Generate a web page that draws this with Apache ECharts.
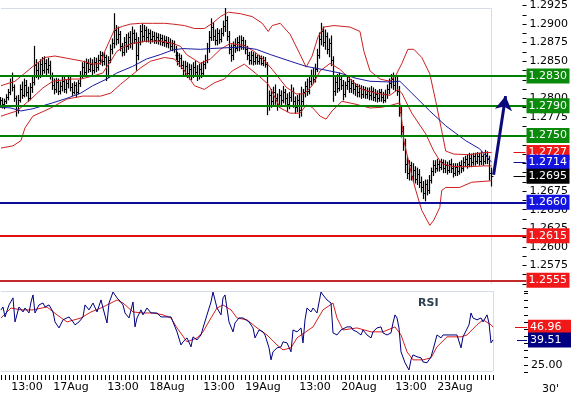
<!DOCTYPE html>
<html><head><meta charset="utf-8">
<script src="https://cdn.jsdelivr.net/npm/echarts@6/dist/echarts.min.js"></script>
<style>html,body{margin:0;padding:0;background:#fff}#c{width:571px;height:397px}</style>
</head><body><div id="c"></div>
<script>
// ---------- DATA ----------
const barCount = 247, padCount = 17;
const tickIndex = [13, 35, 61, 83, 109, 131, 157, 179, 205, 227];
const tickText = ['13:00', '17Aug', '13:00', '18Aug', '13:00', '19Aug', '13:00', '20Aug', '13:00', '23Aug'];

// [open, close, low, high] per 30-minute bar
const ohlc = [
[1.2795,1.2798,1.2788,1.2801],[1.2798,1.2792,1.2787,1.2800],[1.2792,1.2796,1.2786,1.2799],[1.2796,1.2802,1.2793,1.2805],
[1.2802,1.2808,1.2798,1.2812],[1.2808,1.2822,1.2805,1.2826],[1.2822,1.2815,1.2810,1.2834],[1.2815,1.2800,1.2796,1.2818],
[1.2800,1.2784,1.2776,1.2803],[1.2784,1.2798,1.2780,1.2804],[1.2798,1.2812,1.2795,1.2818],[1.2812,1.2805,1.2800,1.2822],
[1.2805,1.2818,1.2802,1.2826],[1.2818,1.2808,1.2803,1.2824],[1.2808,1.2800,1.2796,1.2815],[1.2800,1.2815,1.2798,1.2820],
[1.2815,1.2822,1.2808,1.2828],[1.2822,1.2845,1.2818,1.2870],[1.2845,1.2838,1.2828,1.2852],[1.2838,1.2832,1.2826,1.2848],
[1.2832,1.2846,1.2828,1.2852],[1.2846,1.2838,1.2832,1.2855],[1.2838,1.2848,1.2834,1.2856],[1.2848,1.2840,1.2832,1.2852],
[1.2840,1.2845,1.2834,1.2854],[1.2845,1.2830,1.2826,1.2850],[1.2830,1.2818,1.2812,1.2834],[1.2818,1.2812,1.2806,1.2826],
[1.2812,1.2822,1.2808,1.2827],[1.2822,1.2810,1.2805,1.2826],[1.2810,1.2816,1.2806,1.2822],[1.2816,1.2824,1.2810,1.2830],
[1.2824,1.2812,1.2808,1.2828],[1.2812,1.2820,1.2807,1.2825],[1.2820,1.2826,1.2814,1.2830],[1.2826,1.2815,1.2810,1.2829],
[1.2815,1.2808,1.2804,1.2820],[1.2808,1.2818,1.2806,1.2822],[1.2818,1.2808,1.2802,1.2821],[1.2808,1.2820,1.2806,1.2824],
[1.2820,1.2832,1.2816,1.2836],[1.2832,1.2842,1.2828,1.2848],[1.2842,1.2836,1.2830,1.2850],[1.2836,1.2848,1.2832,1.2853],
[1.2848,1.2840,1.2835,1.2852],[1.2840,1.2846,1.2836,1.2854],[1.2846,1.2838,1.2832,1.2852],[1.2838,1.2849,1.2834,1.2855],
[1.2849,1.2842,1.2836,1.2854],[1.2842,1.2852,1.2838,1.2858],[1.2852,1.2858,1.2846,1.2863],[1.2858,1.2850,1.2844,1.2862],
[1.2850,1.2856,1.2845,1.2862],[1.2856,1.2832,1.2824,1.2858],[1.2832,1.2852,1.2828,1.2856],[1.2852,1.2866,1.2848,1.2872],
[1.2866,1.2874,1.2860,1.2880],[1.2874,1.2892,1.2868,1.2914],[1.2892,1.2880,1.2872,1.2898],[1.2880,1.2886,1.2874,1.2896],
[1.2886,1.2870,1.2864,1.2890],[1.2870,1.2862,1.2857,1.2874],[1.2862,1.2876,1.2858,1.2882],[1.2876,1.2870,1.2862,1.2886],
[1.2870,1.2882,1.2866,1.2888],[1.2882,1.2875,1.2868,1.2890],[1.2875,1.2888,1.2866,1.2896],[1.2888,1.2880,1.2874,1.2892],
[1.2880,1.2858,1.2838,1.2888],[1.2858,1.2876,1.2852,1.2882],[1.2876,1.2890,1.2872,1.2898],[1.2890,1.2884,1.2876,1.2900],
[1.2884,1.2892,1.2878,1.2898],[1.2892,1.2882,1.2876,1.2896],[1.2882,1.2888,1.2876,1.2893],[1.2888,1.2880,1.2874,1.2892],
[1.2880,1.2884,1.2876,1.2890],[1.2884,1.2878,1.2874,1.2889],[1.2878,1.2882,1.2874,1.2888],[1.2882,1.2878,1.2873,1.2887],
[1.2878,1.2881,1.2872,1.2886],[1.2881,1.2876,1.2871,1.2885],[1.2876,1.2879,1.2870,1.2884],[1.2879,1.2874,1.2869,1.2883],
[1.2874,1.2876,1.2868,1.2882],[1.2876,1.2870,1.2865,1.2880],[1.2870,1.2874,1.2864,1.2878],[1.2874,1.2866,1.2862,1.2877],
[1.2866,1.2858,1.2852,1.2870],[1.2858,1.2850,1.2845,1.2862],[1.2850,1.2854,1.2843,1.2860],[1.2854,1.2845,1.2840,1.2858],
[1.2845,1.2838,1.2832,1.2850],[1.2838,1.2844,1.2830,1.2850],[1.2844,1.2834,1.2828,1.2848],[1.2834,1.2840,1.2826,1.2846],
[1.2840,1.2832,1.2825,1.2845],[1.2832,1.2842,1.2828,1.2848],[1.2842,1.2836,1.2830,1.2850],[1.2836,1.2830,1.2824,1.2844],
[1.2830,1.2840,1.2826,1.2846],[1.2840,1.2834,1.2828,1.2848],[1.2834,1.2846,1.2830,1.2850],[1.2846,1.2852,1.2840,1.2858],
[1.2852,1.2868,1.2848,1.2874],[1.2868,1.2882,1.2862,1.2890],[1.2882,1.2896,1.2878,1.2907],[1.2896,1.2884,1.2878,1.2902],
[1.2884,1.2878,1.2872,1.2892],[1.2878,1.2888,1.2872,1.2894],[1.2888,1.2880,1.2874,1.2892],[1.2880,1.2888,1.2876,1.2894],
[1.2888,1.2898,1.2884,1.2904],[1.2898,1.2906,1.2890,1.2921],[1.2906,1.2884,1.2878,1.2910],[1.2884,1.2866,1.2860,1.2890],
[1.2866,1.2858,1.2850,1.2872],[1.2858,1.2872,1.2852,1.2876],[1.2872,1.2868,1.2862,1.2880],[1.2868,1.2876,1.2864,1.2882],
[1.2876,1.2870,1.2864,1.2884],[1.2870,1.2878,1.2866,1.2884],[1.2878,1.2872,1.2866,1.2882],[1.2872,1.2866,1.2860,1.2878],
[1.2866,1.2858,1.2852,1.2870],[1.2858,1.2852,1.2846,1.2862],[1.2852,1.2858,1.2846,1.2863],[1.2858,1.2850,1.2845,1.2862],
[1.2850,1.2856,1.2846,1.2860],[1.2856,1.2850,1.2846,1.2858],[1.2850,1.2854,1.2846,1.2858],[1.2854,1.2848,1.2845,1.2857],
[1.2848,1.2852,1.2844,1.2856],[1.2852,1.2846,1.2842,1.2855],[1.2846,1.2790,1.2778,1.2848],[1.2790,1.2804,1.2784,1.2810],
[1.2804,1.2796,1.2788,1.2812],[1.2796,1.2808,1.2790,1.2815],[1.2808,1.2800,1.2792,1.2818],[1.2800,1.2792,1.2784,1.2806],
[1.2792,1.2804,1.2788,1.2812],[1.2804,1.2798,1.2790,1.2810],[1.2798,1.2808,1.2794,1.2816],[1.2808,1.2800,1.2792,1.2812],
[1.2800,1.2792,1.2782,1.2806],[1.2792,1.2802,1.2786,1.2808],[1.2802,1.2810,1.2796,1.2818],[1.2810,1.2796,1.2788,1.2814],
[1.2796,1.2788,1.2780,1.2802],[1.2788,1.2798,1.2782,1.2804],[1.2798,1.2784,1.2774,1.2806],[1.2784,1.2796,1.2776,1.2815],
[1.2796,1.2808,1.2790,1.2812],[1.2808,1.2816,1.2802,1.2822],[1.2816,1.2810,1.2804,1.2826],[1.2810,1.2824,1.2806,1.2830],
[1.2824,1.2832,1.2818,1.2838],[1.2832,1.2826,1.2820,1.2840],[1.2826,1.2840,1.2822,1.2846],[1.2840,1.2858,1.2836,1.2866],
[1.2858,1.2880,1.2854,1.2888],[1.2880,1.2890,1.2872,1.2901],[1.2890,1.2876,1.2870,1.2896],[1.2876,1.2884,1.2866,1.2892],
[1.2884,1.2866,1.2860,1.2888],[1.2866,1.2874,1.2856,1.2880],[1.2874,1.2852,1.2844,1.2884],[1.2852,1.2810,1.2796,1.2856],
[1.2810,1.2822,1.2804,1.2828],[1.2822,1.2814,1.2808,1.2832],[1.2814,1.2826,1.2810,1.2834],[1.2826,1.2818,1.2812,1.2830],
[1.2818,1.2806,1.2798,1.2824],[1.2806,1.2818,1.2802,1.2822],[1.2818,1.2824,1.2812,1.2830],[1.2824,1.2814,1.2808,1.2828],
[1.2814,1.2820,1.2808,1.2825],[1.2820,1.2812,1.2806,1.2824],[1.2812,1.2816,1.2804,1.2820],[1.2816,1.2808,1.2802,1.2819],
[1.2808,1.2814,1.2802,1.2818],[1.2814,1.2806,1.2800,1.2817],[1.2806,1.2812,1.2801,1.2816],[1.2812,1.2806,1.2800,1.2815],
[1.2806,1.2810,1.2800,1.2814],[1.2810,1.2804,1.2798,1.2814],[1.2804,1.2810,1.2798,1.2816],[1.2810,1.2802,1.2797,1.2814],
[1.2802,1.2806,1.2796,1.2812],[1.2806,1.2800,1.2795,1.2810],[1.2800,1.2808,1.2796,1.2812],[1.2808,1.2802,1.2796,1.2812],
[1.2802,1.2798,1.2794,1.2808],[1.2798,1.2806,1.2795,1.2811],[1.2806,1.2812,1.2800,1.2818],[1.2812,1.2820,1.2806,1.2826],
[1.2820,1.2826,1.2814,1.2832],[1.2826,1.2818,1.2812,1.2834],[1.2818,1.2824,1.2810,1.2830],[1.2824,1.2810,1.2804,1.2828],
[1.2810,1.2782,1.2776,1.2816],[1.2782,1.2756,1.2748,1.2788],[1.2756,1.2740,1.2730,1.2762],[1.2740,1.2712,1.2700,1.2745],
[1.2712,1.2700,1.2692,1.2720],[1.2700,1.2710,1.2690,1.2716],[1.2710,1.2696,1.2690,1.2714],[1.2696,1.2704,1.2688,1.2712],
[1.2704,1.2692,1.2686,1.2708],[1.2692,1.2698,1.2684,1.2706],[1.2698,1.2688,1.2680,1.2704],[1.2688,1.2680,1.2674,1.2694],
[1.2680,1.2672,1.2665,1.2688],[1.2672,1.2684,1.2662,1.2690],[1.2684,1.2676,1.2670,1.2690],[1.2676,1.2690,1.2672,1.2696],
[1.2690,1.2702,1.2686,1.2706],[1.2702,1.2710,1.2696,1.2716],[1.2710,1.2706,1.2700,1.2716],[1.2706,1.2712,1.2702,1.2718],
[1.2712,1.2708,1.2702,1.2716],[1.2708,1.2714,1.2704,1.2718],[1.2714,1.2706,1.2700,1.2717],[1.2706,1.2710,1.2700,1.2716],
[1.2710,1.2704,1.2698,1.2714],[1.2704,1.2712,1.2700,1.2716],[1.2712,1.2706,1.2700,1.2718],[1.2706,1.2700,1.2694,1.2712],
[1.2700,1.2708,1.2696,1.2712],[1.2708,1.2702,1.2696,1.2712],[1.2702,1.2710,1.2698,1.2714],[1.2710,1.2706,1.2700,1.2716],
[1.2706,1.2714,1.2702,1.2720],[1.2714,1.2718,1.2708,1.2722],[1.2718,1.2712,1.2706,1.2724],[1.2712,1.2720,1.2708,1.2726],
[1.2720,1.2714,1.2708,1.2725],[1.2714,1.2722,1.2710,1.2726],[1.2722,1.2716,1.2710,1.2726],[1.2716,1.2722,1.2712,1.2727],
[1.2722,1.2716,1.2710,1.2726],[1.2716,1.2722,1.2711,1.2728],[1.2722,1.2716,1.2710,1.2724],[1.2716,1.2724,1.2712,1.2730],
[1.2724,1.2718,1.2712,1.2728],[1.2718,1.2700,1.2690,1.2722],[1.2700,1.2695,1.2682,1.2706]
];

// indicator lines: [bar index, value]
const bbUpper = [[0,1.2817],[7,1.2823],[12,1.2834],[16,1.2843],[22,1.2855],[27,1.2857],[33,1.2854],[41,1.2850],[46,1.2846],[50,1.2847],[52,1.2863],[55,1.2881],[57,1.2893],[61,1.2897],[65,1.2900],[70,1.2901],[76,1.2901],[82,1.2901],[86,1.2900],[92,1.2898],[97,1.2894],[102,1.2894],[106,1.2901],[110,1.2910],[114,1.2916],[120,1.2914],[126,1.2910],[131,1.2901],[134,1.2890],[136,1.2898],[140,1.2901],[145,1.2886],[150,1.2859],[153,1.2842],[156,1.2857],[159,1.2883],[162,1.2896],[167,1.2898],[175,1.2896],[180,1.2890],[182,1.2863],[185,1.2837],[190,1.2826],[195,1.2823],[198,1.2831],[201,1.2847],[204,1.2866],[207,1.2866],[211,1.2855],[215,1.2833],[218,1.2796],[221,1.2756],[223,1.2729],[227,1.2725],[235,1.2724],[242,1.2727],[246,1.2727]];
const bbMid = [[0,1.2776],[8,1.2783],[15,1.2799],[21,1.2814],[26,1.2823],[35,1.2826],[40,1.2826],[46,1.2830],[51,1.2834],[55,1.2850],[58,1.2863],[62,1.2870],[66,1.2874],[73,1.2877],[80,1.2877],[86,1.2874],[90,1.2870],[93,1.2859],[100,1.2847],[105,1.2853],[110,1.2866],[115,1.2874],[122,1.2871],[127,1.2863],[131,1.2854],[136,1.2839],[143,1.2815],[148,1.2806],[152,1.2806],[156,1.2817],[160,1.2837],[165,1.2847],[170,1.2839],[175,1.2826],[181,1.2812],[188,1.2807],[195,1.2804],[199,1.2812],[201,1.2807],[203,1.2796],[206,1.2780],[213,1.2752],[217,1.2729],[221,1.2712],[227,1.2708],[235,1.2708],[242,1.2709],[246,1.2709]];
const bbLower = [[0,1.2733],[6,1.2736],[10,1.2743],[12,1.2760],[16,1.2776],[25,1.2787],[33,1.2799],[41,1.2803],[50,1.2803],[55,1.2807],[60,1.2819],[65,1.2830],[70,1.2841],[75,1.2850],[82,1.2855],[87,1.2853],[92,1.2837],[97,1.2817],[102,1.2812],[107,1.2821],[112,1.2826],[116,1.2837],[122,1.2846],[128,1.2833],[134,1.2819],[140,1.2787],[145,1.2780],[150,1.2780],[153,1.2791],[156,1.2788],[160,1.2776],[163,1.2772],[166,1.2783],[171,1.2796],[178,1.2792],[185,1.2787],[191,1.2788],[196,1.2791],[200,1.2794],[202,1.2743],[206,1.2696],[208,1.2676],[211,1.2649],[215,1.2629],[217,1.2636],[220,1.2653],[221,1.2676],[223,1.2680],[230,1.2680],[236,1.2687],[246,1.2689]];
const maLine = [[0,1.2788],[5,1.2787],[10,1.2783],[16,1.2786],[21,1.2790],[26,1.2794],[33,1.2800],[40,1.2807],[46,1.2817],[53,1.2826],[58,1.2834],[66,1.2843],[73,1.2853],[80,1.2859],[86,1.2865],[91,1.2867],[100,1.2866],[105,1.2867],[120,1.2869],[128,1.2866],[135,1.2859],[145,1.2850],[153,1.2843],[161,1.2839],[170,1.2834],[178,1.2827],[185,1.2823],[195,1.2822],[200,1.2823],[206,1.2807],[215,1.2783],[223,1.2763],[233,1.2743],[240,1.2732],[246,1.2714]];

const rsi = [[0,57.0],[1,58.7],[2,52.9],[4,59.9],[6,64.0],[7,50.0],[9,58.7],[11,55.8],[12,58.1],[14,55.2],[15,61.6],[16,65.7],[17,55.2],[19,59.9],[21,61.0],[22,58.7],[24,59.9],[26,55.8],[27,50.0],[29,46.5],[31,51.2],[32,52.3],[34,52.9],[36,50.0],[37,48.3],[39,50.0],[41,52.9],[42,59.9],[44,57.0],[46,61.0],[48,55.8],[50,62.8],[51,58.1],[53,49.4],[54,61.0],[56,67.4],[57,67.4],[58,64.0],[59,62.8],[61,59.9],[62,55.2],[64,52.3],[66,61.6],[67,47.1],[68,52.3],[70,57.0],[71,54.1],[73,58.1],[75,55.2],[76,55.8],[78,55.2],[80,52.9],[81,52.3],[83,52.9],[85,52.9],[86,50.0],[88,44.2],[90,36.6],[91,38.4],[93,40.7],[95,35.5],[96,41.3],[98,39.5],[100,42.4],[101,46.5],[103,54.1],[105,61.6],[106,67.4],[108,58.1],[110,54.1],[111,64.0],[112,65.7],[114,50.0],[116,44.2],[117,49.4],[119,52.3],[121,52.3],[122,52.3],[124,50.0],[126,46.5],[127,40.7],[129,45.3],[131,44.2],[132,42.4],[134,34.9],[135,27.9],[136,32.6],[138,34.9],[140,35.5],[141,38.4],[143,37.8],[145,32.6],[146,45.3],[148,44.2],[150,46.5],[151,37.8],[152,51.2],[153,58.1],[155,55.8],[156,58.1],[158,55.2],[160,67.4],[161,65.7],[163,62.8],[165,61.0],[166,43.6],[168,42.4],[170,45.3],[171,44.2],[173,47.1],[175,47.1],[176,45.3],[178,44.2],[180,42.4],[181,45.3],[183,42.4],[185,40.7],[186,44.2],[188,46.5],[190,47.1],[191,43.6],[193,42.4],[195,43.6],[196,49.4],[197,54.1],[198,52.3],[199,46.5],[200,32.6],[201,32.0],[202,26.2],[204,22.0],[205,27.9],[206,30.8],[208,29.7],[210,29.1],[211,26.7],[213,26.2],[215,29.7],[216,33.7],[218,42.4],[220,40.7],[221,42.4],[223,42.4],[225,42.4],[226,41.3],[228,42.4],[230,34.9],[231,41.3],[232,42.4],[234,48.3],[235,55.2],[236,52.3],[238,51.2],[240,52.3],[241,50.0],[243,54.1],[244,49.4],[245,37.8],[246,39.51]];
const rsiMa = [[0,52.3],[5,58.1],[10,57.0],[16,57.0],[23,58.7],[28,54.1],[33,50.0],[40,52.3],[45,55.8],[50,58.1],[55,61.0],[58,62.8],[61,61.0],[66,55.8],[71,55.2],[76,55.2],[81,54.1],[85,52.3],[88,46.5],[93,38.4],[98,40.7],[101,44.2],[105,52.3],[108,58.1],[111,59.9],[115,57.0],[118,52.3],[123,51.2],[128,46.5],[133,42.4],[138,36.6],[141,33.7],[145,34.9],[148,40.7],[156,47.1],[161,57.0],[166,61.0],[168,52.3],[171,45.3],[178,46.5],[185,44.2],[191,44.2],[197,47.1],[200,42.4],[203,32.6],[206,27.9],[211,27.9],[215,29.1],[218,35.5],[223,41.3],[230,41.3],[233,42.4],[238,48.3],[241,51.2],[245,48.3],[246,46.96]];

const levelValues = [1.2830, 1.2790, 1.2750, 1.2660, 1.2615, 1.2555];
const lastValues = [1.2727, 1.2714, 1.2695];   // band top, MA, close
const rsiLastValues = [46.96, 39.51];          // RSI average, RSI
const arrowPoints = [[247, 1.2697], [253, 1.2803]];
const priceTop = 1.2921, rsiTop = 68, rsiBottom = 21.3;

// ---------- STYLES ----------
const levelLineColors = ['#008000', '#008000', '#008000', '#0c0c9c', '#e01010', '#c42a2a'];
const levelBoxColors = ['#0a8a0a', '#0a8a0a', '#0a8a0a', '#1414e0', '#f01818', '#f01818'];
const lastLineColors = ['#e01010', '#10108c', '#000000'];
const lastBoxColors = ['#f01818', '#1414e0', '#000000'];
const rsiLineColors = ['#e01010', '#000080'];
const rsiBoxColors = ['#f01818', '#000080'];
const FONT = 'DejaVu Sans, Verdana, sans-serif';
const frameColor = '#d6dde6';

const cats = Array.from({length: barCount + padCount}, (_, i) => String(i));
const labelMap = {};
tickIndex.forEach((k, j) => { labelMap[k] = tickText[j]; });
const lastCat = barCount + padCount - 1;

function boxLabel(bg) {
  return {show: true, position: 'end', distance: 0, formatter: '{b}', color: '#fff',
    backgroundColor: bg, fontSize: 11, fontFamily: FONT, lineHeight: 13,
    padding: [1, 2, 1, 2], width: 39, align: 'left'};
}

const priceMarks = [];
levelValues.forEach((v, k) => {
  priceMarks.push({yAxis: v, name: v.toFixed(4),
    lineStyle: {color: levelLineColors[k], width: 2, type: 'solid'},
    label: boxLabel(levelBoxColors[k])});
});
lastValues.forEach((v, k) => {
  priceMarks.push([{coord: [lastCat - 6, v], name: v.toFixed(4),
    lineStyle: {color: lastLineColors[k], width: 1, type: 'solid'},
    label: Object.assign(boxLabel(lastBoxColors[k]), {distance: 1})},
    {coord: [lastCat, v]}]);
});
priceMarks.push([{coord: arrowPoints[0], symbol: 'none',
    lineStyle: {color: '#0a0a7a', width: 3, type: 'solid'}, label: {show: false}},
  {coord: arrowPoints[1], symbol: 'arrow', symbolSize: [13, 14]}]);

const rsiMarks = [];
rsiLastValues.forEach((v, k) => {
  rsiMarks.push([{coord: [lastCat - 6 + k, v], name: v.toFixed(2),
    lineStyle: {color: rsiLineColors[k], width: 1, type: 'solid'},
    label: Object.assign(boxLabel(rsiBoxColors[k]), {distance: 1})},
    {coord: [lastCat, v]}]);
});

const frameStyle = {color: frameColor, width: 1, type: 'solid'};
const priceFrame = [
  [{coord: [0, priceTop], lineStyle: frameStyle}, {coord: [barCount - 1, priceTop]}],
  [{coord: [barCount - 1, priceTop], lineStyle: frameStyle}, {coord: [barCount - 1, 1.2550]}]
];
const rsiFrame = [
  [{coord: [0, rsiTop], lineStyle: frameStyle}, {coord: [barCount - 1, rsiTop]}],
  [{coord: [0, rsiBottom], lineStyle: frameStyle}, {coord: [barCount - 1, rsiBottom]}],
  [{coord: [barCount - 1, rsiTop], lineStyle: frameStyle}, {coord: [barCount - 1, rsiBottom]}]
];

const ohlcData = ohlc.map((d, i) => [i, d[0], d[1], d[2], d[3]]);

function renderBar(params, api) {
  const i = api.value(0);
  const pO = api.coord([i, api.value(1)]);
  const pC = api.coord([i, api.value(2)]);
  const pL = api.coord([i, api.value(3)]);
  const pH = api.coord([i, api.value(4)]);
  const x = Math.round(pO[0]) - 0.5;
  const yo = Math.round(pO[1]) + 0.5, yc = Math.round(pC[1]) + 0.5;
  const st = {stroke: '#000', lineWidth: 1};
  return {type: 'group', children: [
    {type: 'line', shape: {x1: x, y1: pH[1] - 0.5, x2: x, y2: pL[1] + 0.5}, style: {stroke: '#000', lineWidth: 1.2}},
    {type: 'line', shape: {x1: x - 2, y1: yo, x2: x, y2: yo}, style: st},
    {type: 'line', shape: {x1: x, y1: yc, x2: x + 2, y2: yc}, style: st}
  ]};
}

const lineBase = {type: 'line', showSymbol: false, symbol: 'none', silent: true, animation: false, z: 3};

const option = {
  animation: false,
  backgroundColor: '#fff',
  grid: [
    {left: 0, right: 43, top: 4, height: 280},
    {left: 0, right: 43, top: 291, height: 81}
  ],
  xAxis: [
    {type: 'category', gridIndex: 0, data: cats, boundaryGap: true, show: false},
    {type: 'category', gridIndex: 1, data: cats, boundaryGap: true, position: 'bottom', offset: 3,
      axisLine: {show: false},
      axisTick: {show: true, alignWithLabel: true, length: 5, lineStyle: {color: '#000'},
        interval: (i) => i % 2 === 0 && i < barCount},
      axisLabel: {interval: (i) => labelMap[i] !== undefined, formatter: (v, i) => labelMap[i] || '',
        color: '#000', fontSize: 11, fontFamily: FONT, margin: 7},
      splitLine: {show: false}}
  ],
  yAxis: [
    {type: 'value', gridIndex: 0, position: 'right', min: 1.2550, max: 1.2925, interval: 0.0025,
      axisLine: {show: false},
      axisTick: {show: true, inside: true, length: 4, lineStyle: {color: '#000'}},
      minorTick: {show: true, splitNumber: 2, length: 4, lineStyle: {color: '#000'}},
      splitLine: {show: false}, minorSplitLine: {show: false},
      axisLabel: {margin: 3, color: '#000', fontSize: 11, fontFamily: FONT, padding: [3, 0, 0, 0],
        showMinLabel: false, formatter: (v) => v.toFixed(4)}},
    {type: 'value', gridIndex: 1, position: 'right', min: 125 / 6, max: 68, interval: 25 / 6,
      axisLine: {show: false},
      axisTick: {show: true, inside: true, length: 4, lineStyle: {color: '#000'}},
      splitLine: {show: false},
      axisLabel: {margin: 3, color: '#000', fontSize: 11, fontFamily: FONT,
        formatter: (v) => Math.abs(v - 25) < 0.01 ? '25.00' : ''}}
  ],
  graphic: [
    {type: 'text', left: 418, top: 298, style: {text: 'RSI', font: 'bold 11px ' + FONT, fill: '#2c4050'}},
    {type: 'text', left: 542, top: 384, style: {text: "30'", font: '11px ' + FONT, fill: '#000'}}
  ],
  series: [
    {type: 'custom', name: 'bars', xAxisIndex: 0, yAxisIndex: 0, data: ohlcData,
      renderItem: renderBar, encode: {x: 0, y: [1, 2, 3, 4]}, silent: true, animation: false, z: 2},
    Object.assign({}, lineBase, {name: 'bbUpper', xAxisIndex: 0, yAxisIndex: 0, data: bbUpper,
      lineStyle: {color: '#cc2020', width: 1},
      markLine: {z: 1, precision: 6, silent: true, symbol: ['none', 'none'], label: {show: false}, animation: false, data: priceFrame}}),
    Object.assign({}, lineBase, {name: 'bbMid', xAxisIndex: 0, yAxisIndex: 0, data: bbMid,
      lineStyle: {color: '#cc2020', width: 1}}),
    Object.assign({}, lineBase, {name: 'bbLower', xAxisIndex: 0, yAxisIndex: 0, data: bbLower,
      lineStyle: {color: '#cc2020', width: 1}}),
    Object.assign({}, lineBase, {name: 'ma', xAxisIndex: 0, yAxisIndex: 0, data: maLine, clip: false,
      lineStyle: {color: '#1a1aa0', width: 1},
      markLine: {precision: 6, silent: true, symbol: ['none', 'none'], animation: false,
        emphasis: {disabled: true}, data: priceMarks}}),
    Object.assign({}, lineBase, {name: 'rsiMa', xAxisIndex: 1, yAxisIndex: 1, data: rsiMa,
      lineStyle: {color: '#d42020', width: 1},
      markLine: {z: 1, precision: 4, silent: true, symbol: ['none', 'none'], label: {show: false}, animation: false, data: rsiFrame}}),
    Object.assign({}, lineBase, {name: 'rsi', xAxisIndex: 1, yAxisIndex: 1, data: rsi, clip: false,
      lineStyle: {color: '#000080', width: 1},
      markLine: {precision: 4, silent: true, symbol: ['none', 'none'], animation: false,
        emphasis: {disabled: true}, data: rsiMarks}})
  ]
};

const chart = echarts.init(document.getElementById('c'), null, {renderer: 'canvas'});
chart.setOption(option);
</script>
</body></html>
